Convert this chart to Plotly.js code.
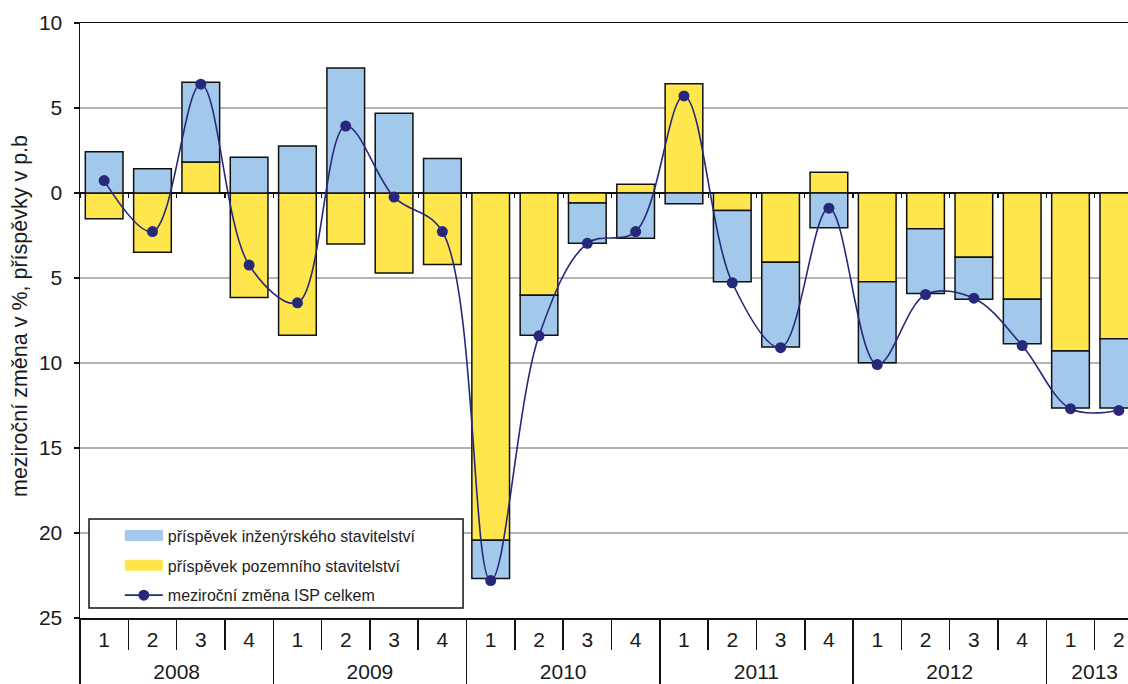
<!DOCTYPE html>
<html>
<head>
<meta charset="utf-8">
<script src="https://cdn.plot.ly/plotly-3.0.1.min.js"></script>
<style>
html,body{margin:0;padding:0;background:#fff;}
#chart{width:1128px;height:684px;}
</style>
</head>
<body>
<div id="chart"></div>
<script>
// ---- data ----
const years = ['2008','2008','2008','2008','2009','2009','2009','2009','2010','2010','2010','2010',
               '2011','2011','2011','2011','2012','2012','2012','2012','2013','2013'];
const quarters = ['1','2','3','4','1','2','3','4','1','2','3','4','1','2','3','4','1','2','3','4','1','2'];
// příspěvek inženýrského stavitelství (p.b.)
const engineering = [2.42, 1.42, 4.69, 2.10, 2.76, 7.35, 4.69, 2.03, -2.25, -2.36, -2.37, -2.66,
                     -0.63, -4.19, -4.98, -2.05, -4.77, -3.80, -2.47, -2.62, -3.35, -4.08];
// příspěvek pozemního stavitelství (p.b.)
const building = [-1.52, -3.49, 1.83, -6.15, -8.37, -3.00, -4.71, -4.20, -20.43, -6.01, -0.59, 0.51,
                  6.42, -1.03, -4.08, 1.22, -5.22, -2.11, -3.78, -6.25, -9.30, -8.57];
// meziroční změna ISP celkem (%)
const total = [0.73, -2.27, 6.40, -4.24, -6.46, 3.94, -0.24, -2.27, -22.80, -8.40, -2.96, -2.27,
               5.71, -5.28, -9.10, -0.89, -10.09, -5.97, -6.19, -8.97, -12.69, -12.79];
const yTickVals = [10, 5, 0, -5, -10, -15, -20, -25];
const yTickText = ['10', '5', '0', '5', '10', '15', '20', '25'];
const names = ['příspěvek inženýrského stavitelství', 'příspěvek pozemního stavitelství', 'meziroční změna ISP celkem'];
const yTitle = 'meziroční změna v %, příspěvky v p.b';

// ---- styles ----
const FONT = 'Liberation Sans, Arial, sans-serif';
const BLUE = '#a2c8eb';
const YELLOW = '#ffe64d';
const NAVY = '#27287a';
const xRange = [-0.5, 21.19];

const xCats = [years, quarters];

const traces = [
  {
    type: 'bar', name: names[1], x: xCats, y: building,
    marker: {color: YELLOW, line: {color: '#111', width: 1.5}},
    legendgroup: 'b', legendrank: 2, hoverinfo: 'y'
  },
  {
    type: 'bar', name: names[0], x: xCats, y: engineering,
    marker: {color: BLUE, line: {color: '#111', width: 1.5}},
    legendgroup: 'a', legendrank: 1, hoverinfo: 'y'
  },
  {
    type: 'scatter', mode: 'lines+markers', name: names[2], x: xCats, y: total,
    line: {color: NAVY, width: 1.6, shape: 'spline', smoothing: 1},
    marker: {color: NAVY, size: 11},
    legendgroup: 'c', legendrank: 3, hoverinfo: 'y'
  },
  {
    // invisible helper: category tick marks on the zero line
    type: 'scatter', mode: 'markers', x: xCats, y: total, xaxis: 'x2',
    marker: {opacity: 0}, showlegend: false, hoverinfo: 'skip'
  },
  {
    // invisible helper: long quarter separators below the plot
    type: 'scatter', mode: 'markers', x: xCats, y: total, xaxis: 'x3',
    marker: {opacity: 0}, showlegend: false, hoverinfo: 'skip'
  }
];

const layout = {
  width: 1128, height: 684,
  margin: {l: 80, r: 0, t: 23, b: 66, pad: 0},
  paper_bgcolor: '#fff', plot_bgcolor: '#fff',
  font: {family: FONT, size: 21, color: '#1a1a1a'},
  barmode: 'relative',
  bargap: 0.22,
  showlegend: true,
  xaxis: {
    type: 'multicategory',
    range: xRange,
    showline: true, linecolor: '#111', linewidth: 1.5, mirror: true,
    ticks: '', tickson: 'boundaries',
    ticklabelstandoff: 2,
    showdividers: true, dividercolor: '#111', dividerwidth: 1.5,
    showgrid: false, zeroline: false,
    tickfont: {family: FONT, size: 21, color: '#1a1a1a'}
  },
  xaxis2: {
    type: 'multicategory',
    overlaying: 'x', anchor: 'free', position: 25 / 35, side: 'bottom',
    range: xRange,
    showline: false, showticklabels: false, showdividers: false,
    ticks: 'outside', ticklen: 4, tickwidth: 1.2, tickcolor: '#111',
    tickson: 'boundaries', showgrid: false, zeroline: false
  },
  xaxis3: {
    type: 'multicategory',
    overlaying: 'x', anchor: 'y', side: 'bottom',
    range: xRange,
    showline: false, showticklabels: false, showdividers: false,
    ticks: 'outside', ticklen: 31, tickwidth: 1.5, tickcolor: '#111',
    tickson: 'boundaries', showgrid: false, zeroline: false
  },
  yaxis: {
    range: [-25, 10],
    tickvals: yTickVals, ticktext: yTickText,
    showline: true, linecolor: '#111', linewidth: 1.5,
    ticks: 'outside', ticklen: 5, tickwidth: 1.5, tickcolor: '#111',
    ticklabelstandoff: 7,
    showgrid: true, gridcolor: '#b4b4b4', gridwidth: 1.3,
    zeroline: true, zerolinecolor: '#111', zerolinewidth: 1.5,
    tickfont: {family: FONT, size: 21, color: '#1a1a1a'}
  },
  legend: {
    x: 0.038, xanchor: 'left', y: 0.167, yanchor: 'top',
    bgcolor: 'rgba(0,0,0,0)', borderwidth: 0,
    traceorder: 'grouped', tracegroupgap: 6,
    itemwidth: 38,
    font: {family: FONT, size: 16, color: '#222'}
  },
  annotations: [
    {text: yTitle, textangle: -90, showarrow: false,
     xref: 'paper', yref: 'paper', x: -60 / 1048, y: (618 - 316) / 595,
     xanchor: 'center', yanchor: 'middle',
     font: {family: FONT, size: 21.5, color: '#1a1a1a'}}
  ],
  shapes: [
    {type: 'rect', xref: 'paper', yref: 'paper', x0: 0.0086, x1: 0.3655, y0: 0.0168, y1: 0.1664,
     fillcolor: '#fff', line: {color: '#111', width: 1.5}, layer: 'above'}
  ]
};

Plotly.newPlot('chart', traces, layout, {displayModeBar: false, staticPlot: true}).then(function(gd) {
  // widen the bar legend symbols into flat rectangles as in the original
  gd.querySelectorAll('.legend .traces').forEach(function(item) {
    item.querySelectorAll('.legendpoints path').forEach(function(p) {
      if (p.classList.contains('legendbar') || (p.getAttribute('d') || '').indexOf('M6,6H-6') === 0) {
        p.setAttribute('d', 'M-19,5.5H19V-5.5H-19Z');
        p.style.strokeWidth = '0';
      }
    });
  });
  // year row sits a little lower in the original, with dividers running to the bottom edge
  gd.querySelectorAll('g.xtick2').forEach(function(g) {
    g.setAttribute('transform', (g.getAttribute('transform') || '') + ' translate(0,9)');
  });
  gd.querySelectorAll('path.xdivider').forEach(function(p) {
    const d = p.getAttribute('d') || '';
    p.setAttribute('d', d.replace(/v[-\d.]+/, 'v70'));
  });
});
</script>
</body>
</html>
